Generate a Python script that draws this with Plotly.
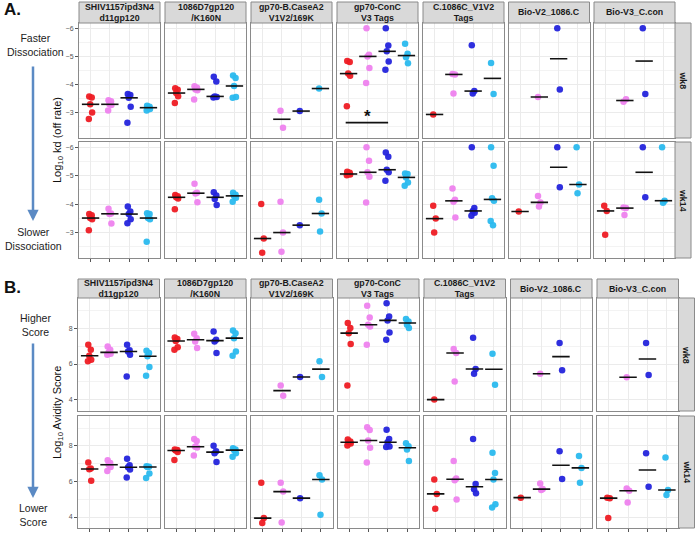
import numpy as np
import plotly.graph_objects as go
from plotly.subplots import make_subplots

# ---------------- data ----------------
antigens = ["SHIV1157ipd3N4<br>d11gp120", "1086D7gp120<br>/K160N", "gp70-B.CaseA2<br>V1V2/169K",
            "gp70-ConC<br>V3 Tags", "C.1086C_V1V2<br>Tags", "Bio-V2_1086.C", "Bio-V3_C.con"]
weeks = ["wk8", "wk14"]
group_colors = ["#EE1C24", "#EE82EE", "#2424DC", "#2AB9EE"]  # 4 groups per panel

# Log10 kd (off rate), week 8 : per antigen -> [group1, group2, group3, group4]
kd_wk8 = [
    [[-3.58, -3.54, -3.30, -3.01, -2.78], [-3.44, -3.41, -3.30, -3.28, -3.08], [-3.67, -3.63, -3.53, -3.21, -2.65], [-3.25, -3.21, -3.18, -3.13, -3.08]],
    [[-3.87, -3.82, -3.70, -3.59, -3.35], [-3.94, -3.89, -3.83, -3.80, -3.47], [-4.28, -4.11, -3.58, -3.56, -3.54], [-4.32, -4.23, -3.95, -3.56, -3.53]],
    [[], [-3.07, -2.47], [-3.06], [-3.86]],
    [[-4.84, -4.80, -4.39, -4.31, -3.23], [-6.0, -5.06, -5.00, -4.59, -4.06], [-6.0, -5.39, -5.18, -4.82, -4.53], [-5.45, -5.09, -4.97, -4.76]],
    [[-2.94], [-4.38, -4.36, -3.68], [-5.40, -3.77, -3.68], [-4.77, -3.67]],
    [[], [-3.56], [-6.0, -3.83], []],
    [[], [-3.39, -3.48], [-6.0, -3.67], []],
]
kd_wk14 = [
    [[-3.65, -3.61, -3.51, -3.47, -3.08], [-3.84, -3.67, -3.65, -3.32], [-3.92, -3.74, -3.65, -3.47, -3.33], [-3.68, -3.65, -3.51, -3.47, -2.68]],
    [[-4.32, -4.28, -4.24, -4.20, -3.82], [-4.72, -4.40, -4.37, -4.07], [-4.42, -4.30, -4.18, -3.97], [-4.40, -4.33, -4.29, -4.22, -4.08]],
    [[-4.00, -2.79, -2.29], [-4.08, -3.00, -2.32], [-3.26], [-4.15, -3.67, -3.04]],
    [[-5.14, -5.10, -5.06, -5.04, -5.02], [-6.0, -5.53, -5.12, -4.96, -4.06], [-5.82, -5.67, -5.21, -5.12, -4.82], [-5.08, -5.06, -4.94, -4.76, -4.65]],
    [[-3.94, -3.49, -3.00], [-4.55, -4.15, -4.08, -3.53], [-6.0, -3.86, -3.76, -3.70, -3.59], [-6.0, -5.35, -4.21, -4.12, -3.41, -3.26]],
    [[-3.74], [-4.29, -4.06, -3.92], [-6.0, -4.59], [-6.0, -4.69, -4.38]],
    [[-3.94, -3.76, -2.92], [-3.88, -3.86, -3.62], [-6.0, -4.24], [-6.0, -4.12, -4.05]],
]
# Log10 avidity score
av_wk8 = [
    [[7.07, 6.80, 6.46, 6.24, 6.15], [6.98, 6.80, 6.65, 6.57, 6.52], [7.07, 6.76, 6.70, 6.52, 5.31], [6.74, 6.61, 6.43, 5.83, 5.35]],
    [[7.48, 7.40, 7.28, 6.94, 6.80], [7.69, 7.44, 7.26, 6.89], [7.81, 7.35, 7.26, 6.61], [7.87, 7.72, 7.44, 6.70, 6.46]],
    [[], [4.80, 4.24], [5.28], [6.15, 5.28]],
    [[8.28, 8.00, 7.72, 7.11, 4.81], [9.24, 8.59, 8.19, 8.09, 7.07], [9.39, 8.65, 8.43, 7.76, 7.35], [8.50, 8.37, 8.19, 8.00]],
    [[4.02], [6.83, 6.61, 5.02], [7.46, 5.72, 5.46], [6.57, 4.85]],
    [[], [5.46], [7.17, 5.65], []],
    [[], [5.26], [7.17, 5.39], []],
]
av_wk14 = [
    [[7.06, 6.72, 6.68, 6.04], [7.19, 7.04, 6.94, 6.81, 6.59], [7.28, 6.91, 6.80, 6.67, 6.22], [6.85, 6.83, 6.81, 6.44, 6.19]],
    [[7.80, 7.76, 7.74, 7.65, 7.20], [8.39, 8.27, 7.95, 7.91, 7.46], [8.00, 7.70, 7.59, 7.09], [7.87, 7.80, 7.76, 7.59, 7.39]],
    [[5.93, 3.94, 3.67], [5.93, 5.43, 3.70], [5.06], [6.35, 6.11, 4.13]],
    [[8.35, 8.24, 8.20, 8.13, 8.02], [9.04, 8.89, 8.30, 7.89, 7.06], [8.91, 8.39, 8.20, 7.96, 7.93], [8.15, 7.98, 7.80, 7.15]],
    [[6.11, 5.30, 4.46], [7.15, 6.17, 6.07, 4.98], [8.39, 5.85, 5.56, 5.33], [7.61, 6.48, 6.11, 4.72, 4.54]],
    [[5.09], [5.89, 5.57, 5.52], [7.69, 6.13], [7.43, 6.76, 5.93]],
    [[5.09, 5.06, 3.94], [5.61, 5.48, 4.81], [7.59, 5.70], [7.35, 5.52, 5.24]],
]
kd_ticks = [-6, -5, -4, -3]
kd_minor = [-5.5, -4.5, -3.5, -2.5]
av_ticks = [4, 6, 8]
av_minor = [5, 7, 9]
sig_bar = dict(col=3, x0=0.85, x1=3.05, y=-2.65, star_y=-2.87)   # "*" comparison in gp70-ConC wk8

# ---------------- layout geometry (pixels) ----------------
W, H = 696, 533
A_lefts = [79, 165, 251, 337, 423, 508.5, 594]
A_w = 81
B_lefts = [78, 164.5, 251, 337.5, 424, 510.5, 597]
B_w = 81.5
row_px = [(23, 138), (142, 258), (298, 411), (416, 528)]
strip_px = [(2, 23), (279, 298)]

def fx(p): return p / W
def fy(p): return 1 - p / H

rows_data = [kd_wk8, kd_wk14, av_wk8, av_wk14]

def yrange(datasets, reverse):
    vals = [v for d in datasets for ant in d for g in ant for v in g]
    lo, hi = min(vals), max(vals)
    pad = 0.05 * (hi - lo)
    return [hi + pad, lo - pad] if reverse else [lo - pad, hi + pad]

kd_range = yrange([kd_wk8, kd_wk14], True)
av_range = yrange([av_wk8, av_wk14], False)

jit = [-0.07, 0.06, -0.02, 0.08, -0.09, 0.03]

fig = make_subplots(rows=4, cols=7)

grid_col = "#EBEBEB"
border_col = "#8A8A8A"

for r in range(4):
    data = rows_data[r]
    sectionA = r < 2
    lefts, w = (A_lefts, A_w) if sectionA else (B_lefts, B_w)
    top, bot = row_px[r]
    for c in range(7):
        idx = r * 7 + c + 1
        groups = data[c]
        for g, vals in enumerate(groups):
            if not vals:
                continue
            xs = [g + 1 + jit[k % len(jit)] for k in range(len(vals))]
            fig.add_trace(go.Scatter(x=xs, y=vals, mode="markers",
                                     marker=dict(color=group_colors[g], size=6.5, opacity=0.95, line=dict(width=0)),
                                     showlegend=False, hoverinfo="skip"), row=r + 1, col=c + 1)
        for g, vals in enumerate(groups):
            if not vals:
                continue
            med = float(np.median(vals))
            fig.add_trace(go.Scatter(x=[g + 1 - 0.45, g + 1 + 0.45], y=[med, med], mode="lines",
                                     line=dict(color="#111111", width=1.6),
                                     showlegend=False, hoverinfo="skip"), row=r + 1, col=c + 1)
        xa = "xaxis" if idx == 1 else f"xaxis{idx}"
        ya = "yaxis" if idx == 1 else f"yaxis{idx}"
        bottom_row = r in (1, 3)
        fig.layout[xa].update(domain=[fx(lefts[c]), fx(lefts[c] + w)], range=[0.4, 4.6],
                              tickvals=[1, 2, 3, 4], showticklabels=False,
                              ticks="outside" if bottom_row else "", ticklen=3, tickcolor="#555", tickwidth=1,
                              showgrid=True, gridcolor=grid_col, gridwidth=1, zeroline=False,
                              showline=True, mirror=True, linecolor=border_col, linewidth=1)
        fig.layout[ya].update(domain=[fy(bot), fy(top)],
                              range=kd_range if sectionA else av_range,
                              tickvals=kd_ticks if sectionA else av_ticks,
                              showticklabels=(c == 0), ticks="outside" if c == 0 else "",
                              ticklen=3, tickcolor="#555", tickwidth=1,
                              tickfont=dict(size=7, color="#555", family="Liberation Sans, Arial"),
                              showgrid=True, gridcolor=grid_col, gridwidth=1, zeroline=False,
                              minor=dict(tickvals=kd_minor if sectionA else av_minor, showgrid=True,
                                         gridcolor="#F3F3F3", gridwidth=0.6, ticks=""),
                              showline=True, mirror=True, linecolor=border_col, linewidth=1)

shapes = []
annots = []
strip_font = dict(family="Liberation Sans, Arial", size=8.8, color="#1A1A1A")
for s in range(2):
    lefts, w = (A_lefts, A_w) if s == 0 else (B_lefts, B_w)
    st, sb = strip_px[s]
    for c in range(7):
        shapes.append(dict(type="rect", xref="paper", yref="paper", x0=fx(lefts[c]), x1=fx(lefts[c] + w),
                           y0=fy(sb), y1=fy(st), fillcolor="#D9D9D9", line=dict(color=border_col, width=1)))
        annots.append(dict(xref="paper", yref="paper", x=fx(lefts[c] + w / 2), y=fy((st + sb) / 2),
                           text="<b>" + antigens[c] + "</b>", showarrow=False, font=strip_font,
                           xanchor="center", yanchor="middle"))
    right = lefts[6] + w
    for k in range(2):
        top, bot = row_px[2 * s + k]
        shapes.append(dict(type="rect", xref="paper", yref="paper", x0=fx(right), x1=fx(right + 16),
                           y0=fy(bot), y1=fy(top), fillcolor="#D9D9D9", line=dict(color=border_col, width=1)))
        annots.append(dict(xref="paper", yref="paper", x=fx(right + 8), y=fy((top + bot) / 2),
                           text="<b>" + weeks[k] + "</b>", showarrow=False, textangle=90, font=strip_font,
                           xanchor="center", yanchor="middle"))

# significance bar and star
sidx = sig_bar["col"] + 1
fig.add_trace(go.Scatter(x=[sig_bar["x0"], sig_bar["x1"]], y=[sig_bar["y"], sig_bar["y"]], mode="lines",
                         line=dict(color="#111111", width=1.6), showlegend=False, hoverinfo="skip"),
              row=1, col=sidx)
annots.append(dict(xref=f"x{sidx}", yref=f"y{sidx}", x=2.0, y=sig_bar["star_y"], text="<b>*</b>",
                   showarrow=False, font=dict(size=17, color="#111111", family="Liberation Sans, Arial")))

lab_font = dict(family="Liberation Sans, Arial", size=10.5, color="#222222")
arrow_col = "#5B8AC4"
# section labels
annots.append(dict(xref="paper", yref="paper", x=fx(2), y=fy(10), text="<b>A.</b>", showarrow=False,
                   xanchor="left", yanchor="middle", font=dict(family="Liberation Sans, Arial", size=17, color="#111")))
annots.append(dict(xref="paper", yref="paper", x=fx(2), y=fy(287), text="<b>B.</b>", showarrow=False,
                   xanchor="left", yanchor="middle", font=dict(family="Liberation Sans, Arial", size=17, color="#111")))
for (t1, t2, ytop, ybot, ya0, ya1) in [("Faster<br>Dissociation", "Slower<br>Dissociation", 45, 239, 65, 221),
                                       ("Higher<br>Score", "Lower<br>Score", 325, 515, 342, 498)]:
    annots.append(dict(xref="paper", yref="paper", x=fx(35), y=fy(ytop), text=t1, showarrow=False,
                       xanchor="center", yanchor="middle", font=lab_font))
    annots.append(dict(xref="paper", yref="paper", x=fx(33), y=fy(ybot), text=t2, showarrow=False,
                       xanchor="center", yanchor="middle", font=lab_font))
    annots.append(dict(xref="paper", yref="paper", x=fx(33), y=fy(ya1), ax=0, ay=-(ya1 - ya0),
                       text="", showarrow=True, arrowhead=2, arrowsize=0.9,
                       arrowwidth=2.5, arrowcolor=arrow_col))
# y axis titles
annots.append(dict(xref="paper", yref="paper", x=fx(58), y=fy(140), text="Log<sub>10</sub> kd (off rate)",
                   showarrow=False, textangle=-90, xanchor="center", yanchor="middle",
                   font=dict(family="Liberation Sans, Arial", size=11, color="#111")))
annots.append(dict(xref="paper", yref="paper", x=fx(58), y=fy(413), text="Log<sub>10</sub> Avidity Score",
                   showarrow=False, textangle=-90, xanchor="center", yanchor="middle",
                   font=dict(family="Liberation Sans, Arial", size=11, color="#111")))

fig.update_layout(width=W, height=H, margin=dict(l=0, r=0, t=0, b=0),
                  paper_bgcolor="white", plot_bgcolor="white",
                  shapes=shapes, annotations=annots, showlegend=False)
fig.write_html("out.html", config={"displayModeBar": False},
               post_script="document.body.style.margin='0';document.body.style.overflow='hidden';")
